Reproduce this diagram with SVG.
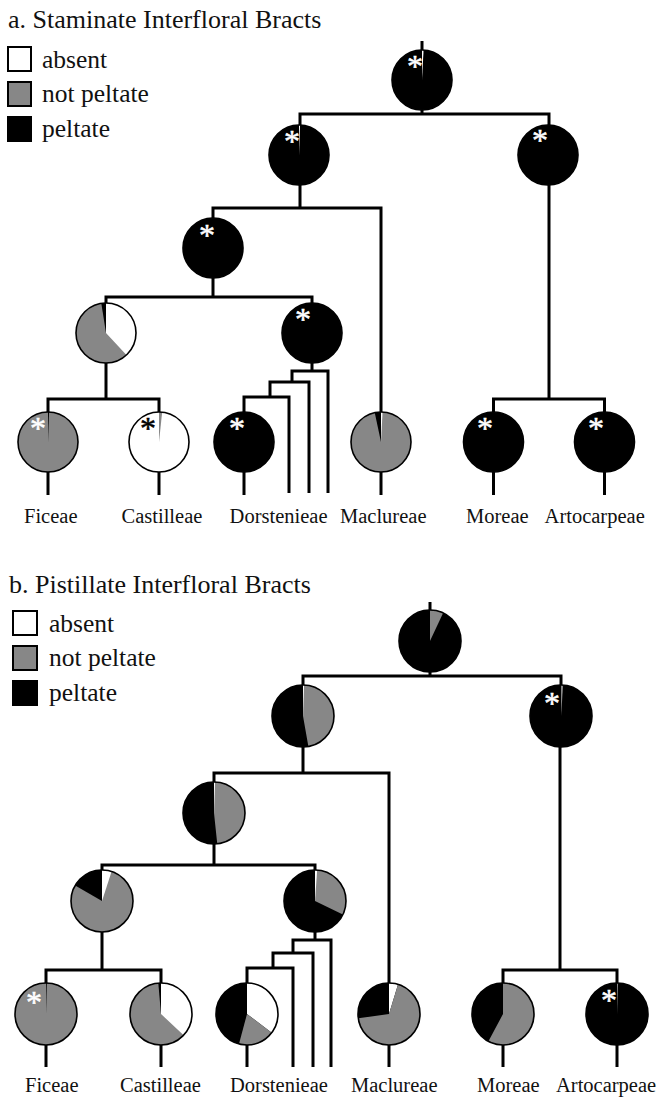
<svg xmlns="http://www.w3.org/2000/svg" width="657" height="1098" viewBox="0 0 657 1098">
<style>
text{font-family:'Liberation Serif','DejaVu Serif',serif}
.t{fill:#111}
.title{font-size:26px}
.leg{font-size:25.5px}
.lab{font-size:20.5px}
.ast{font-size:32px;text-anchor:middle;fill:#fff;stroke:#fff;stroke-width:0.5}
.astk{font-size:32px;text-anchor:middle;fill:#000;stroke:#000;stroke-width:0.5}
.c path{fill:none;stroke:#000;stroke-width:3;stroke-linejoin:miter;stroke-linecap:butt}
.ol{fill:none;stroke:#000;stroke-width:1.6}
.k{fill:#000}.g{fill:#878787}.w{fill:#fff}
</style>
<rect width="657" height="1098" fill="#fff"/>

<!-- ===== Panel a ===== -->
<g id="panel-a-title"><text class="t title" x="8" y="28">a. Staminate Interfloral Bracts</text></g>
<g id="legend-a">
<rect x="8" y="47" width="23" height="24" fill="#fff" stroke="#000" stroke-width="2"/>
<rect x="8" y="82" width="23" height="24" fill="#878787" stroke="#000" stroke-width="2"/>
<rect x="8" y="117" width="23" height="24" fill="#000" stroke="#000" stroke-width="2"/>
<text class="t leg" x="42" y="68">absent</text>
<text class="t leg" x="42" y="102">not peltate</text>
<text class="t leg" x="42" y="137">peltate</text>
</g>

<g id="connectors-a" class="c">
<path d="M422,41 V50"/>
<path d="M300,125 V114 H549 V125 M422,110 V114"/>
<path d="M213,218 V208 H381 V412 M300,185 V208"/>
<path d="M106,303 V297 H312 V303 M213,278 V297"/>
<path d="M48,412 V399 H159 V412 M106,363 V399"/>
<path d="M312,363 V371"/>
<path d="M292,382 V371 H328 V493"/>
<path d="M270,397 V382 H309 V493"/>
<path d="M244,412 V397 H289 V493"/>
<path d="M493.5,412 V399 H604.5 V412 M549,185 V399"/>
<path d="M48,472 V495 M159,472 V495 M244,472 V495 M381,472 V495 M493.5,472 V495 M604.5,472 V495"/>
</g>

<g id="a-root">
<circle class="k" cx="422" cy="80" r="30"/>
<path class="w" d="M422,80 L422,50 A30,30 0 0 1 423.57,50.04 Z"/>
<circle class="ol" cx="422" cy="80" r="30"/>
<text class="ast" x="415" y="76.5">*</text>
</g>
<g id="a-n1">
<circle class="k" cx="299" cy="155" r="30"/>
<path class="w" d="M299,155 L299,125 A30,30 0 0 1 300.05,125.02 Z"/>
<circle class="ol" cx="299" cy="155" r="30"/>
<text class="ast" x="292" y="151.5">*</text>
</g>
<g id="a-n2">
<circle class="k" cx="548" cy="155" r="30"/>
<circle class="ol" cx="548" cy="155" r="30"/>
<text class="ast" x="540" y="150.5">*</text>
</g>
<g id="a-n3">
<circle class="k" cx="213" cy="248" r="30"/>
<circle class="ol" cx="213" cy="248" r="30"/>
<text class="ast" x="207" y="245.5">*</text>
</g>
<g id="a-n4">
<circle class="g" cx="106" cy="333" r="30"/>
<path class="w" d="M106,333 L106,303 A30,30 0 0 1 126.46,354.94 Z"/>
<path class="k" d="M106,333 L101.31,303.37 A30,30 0 0 1 106,303 Z"/>
<circle class="ol" cx="106" cy="333" r="30"/>
</g>
<g id="a-n5">
<circle class="k" cx="312" cy="333" r="30"/>
<circle class="ol" cx="312" cy="333" r="30"/>
<text class="ast" x="303" y="329.5">*</text>
</g>
<g id="a-ficeae">
<circle class="g" cx="48" cy="442" r="30"/>
<path class="k" d="M48,442 L48,412 A30,30 0 0 1 49.05,412.02 Z"/>
<circle class="ol" cx="48" cy="442" r="30"/>
<text class="ast" x="38" y="438.5">*</text>
<text class="t lab" x="24" y="523">Ficeae</text>
</g>
<g id="a-castilleae">
<circle class="w" cx="159" cy="442" r="30"/>
<path class="g" d="M159,442 L159,412 A30,30 0 0 1 162.14,412.16 Z"/>
<circle class="ol" cx="159" cy="442" r="30"/>
<text class="astk" x="148" y="438.5">*</text>
<text class="t lab" x="121.5" y="523">Castilleae</text>
</g>
<g id="a-dorstenieae">
<circle class="k" cx="244" cy="442" r="30"/>
<circle class="ol" cx="244" cy="442" r="30"/>
<text class="ast" x="237" y="438.5">*</text>
<text class="t lab" x="229.6" y="523">Dorstenieae</text>
</g>
<g id="a-maclureae">
<circle class="g" cx="381" cy="442" r="30"/>
<path class="k" d="M381,442 L374.76,412.66 A30,30 0 0 1 381,412 Z"/>
<path class="w" d="M381,442 L381,412 A30,30 0 0 1 382.57,412.04 Z"/>
<circle class="ol" cx="381" cy="442" r="30"/>
<text class="t lab" x="340" y="523">Maclureae</text>
</g>
<g id="a-moreae">
<circle class="k" cx="493.5" cy="442" r="30"/>
<circle class="ol" cx="493.5" cy="442" r="30"/>
<text class="ast" x="485" y="438.5">*</text>
<text class="t lab" x="466" y="523">Moreae</text>
</g>
<g id="a-artocarpeae">
<circle class="k" cx="604.5" cy="442" r="30"/>
<circle class="ol" cx="604.5" cy="442" r="30"/>
<text class="ast" x="596" y="438.5">*</text>
<text class="t lab" x="544.6" y="523">Artocarpeae</text>
</g>

<!-- ===== Panel b ===== -->
<g id="panel-b-title"><text class="t title" x="9" y="593">b. Pistillate Interfloral Bracts</text></g>
<g id="legend-b">
<rect x="13" y="611" width="24" height="24" fill="#fff" stroke="#000" stroke-width="2"/>
<rect x="13" y="646" width="24" height="24" fill="#878787" stroke="#000" stroke-width="2"/>
<rect x="13" y="681" width="24" height="24" fill="#000" stroke="#000" stroke-width="2"/>
<text class="t leg" x="49" y="632">absent</text>
<text class="t leg" x="49" y="666">not peltate</text>
<text class="t leg" x="49" y="701">peltate</text>
</g>

<g id="connectors-b" class="c">
<path d="M430,602 V610"/>
<path d="M303,685 V676 H561 V685 M430,672 V676"/>
<path d="M214,782 V773 H389 V983 M303,747 V773"/>
<path d="M102,870 V865 H315 V870 M214,844 V865"/>
<path d="M46,983 V970 H161 V983 M102,932 V970"/>
<path d="M315,932 V940"/>
<path d="M293,953 V940 H331 V1067"/>
<path d="M273,968 V953 H313 V1067"/>
<path d="M247,983 V968 H293 V1067"/>
<path d="M503,983 V970 H617 V983 M560,747 V970"/>
<path d="M46,1045 V1067 M161,1045 V1067 M247,1045 V1067 M389,1045 V1067 M503,1045 V1067 M617,1045 V1067"/>
</g>

<g id="b-root">
<circle class="k" cx="430" cy="641" r="31"/>
<path class="g" d="M430,641 L430,610 A31,31 0 0 1 443.10,612.90 Z"/>
<circle class="ol" cx="430" cy="641" r="31"/>
</g>
<g id="b-n1">
<circle class="k" cx="303" cy="716" r="31"/>
<path class="g" d="M303,716 L303,685 A31,31 0 0 1 308.38,746.53 Z"/>
<path class="w" d="M303,716 L303,685 A31,31 0 0 1 304.08,685.02 Z"/>
<circle class="ol" cx="303" cy="716" r="31"/>
</g>
<g id="b-n2">
<circle class="k" cx="561" cy="716" r="31"/>
<path class="g" d="M561,716 L561,685 A31,31 0 0 1 563.16,685.07 Z"/>
<circle class="ol" cx="561" cy="716" r="31"/>
<text class="ast" x="552" y="713.5">*</text>
</g>
<g id="b-n3">
<circle class="k" cx="214" cy="813" r="31"/>
<path class="g" d="M214,813 L214,782 A31,31 0 0 1 217.24,843.83 Z"/>
<path class="w" d="M214,813 L214,782 A31,31 0 0 1 215.08,782.02 Z"/>
<circle class="ol" cx="214" cy="813" r="31"/>
</g>
<g id="b-n4">
<circle class="g" cx="102" cy="901" r="31"/>
<path class="w" d="M102,901 L102,870 A31,31 0 0 1 111.58,871.52 Z"/>
<path class="k" d="M102,901 L75.15,885.5 A31,31 0 0 1 102,870 Z"/>
<circle class="ol" cx="102" cy="901" r="31"/>
</g>
<g id="b-n5">
<circle class="k" cx="315" cy="901" r="31"/>
<path class="g" d="M315,901 L315,870 A31,31 0 0 1 342.86,914.59 Z"/>
<path class="w" d="M315,901 L315,870 A31,31 0 0 1 317.16,870.07 Z"/>
<circle class="ol" cx="315" cy="901" r="31"/>
</g>
<g id="b-ficeae">
<circle class="g" cx="46" cy="1014" r="31"/>
<path class="k" d="M46,1014 L46,983 A31,31 0 0 1 46.81,983.01 Z"/>
<circle class="ol" cx="46" cy="1014" r="31"/>
<text class="ast" x="34" y="1012.5">*</text>
<text class="t lab" x="25" y="1092">Ficeae</text>
</g>
<g id="b-castilleae">
<circle class="g" cx="161" cy="1014" r="31"/>
<path class="w" d="M161,1014 L161,983 A31,31 0 0 1 183.67,1035.14 Z"/>
<path class="k" d="M161,1014 L158.30,983.12 A31,31 0 0 1 161,983 Z"/>
<circle class="ol" cx="161" cy="1014" r="31"/>
<text class="t lab" x="120" y="1092">Castilleae</text>
</g>
<g id="b-dorstenieae">
<circle class="k" cx="247" cy="1014" r="31"/>
<path class="w" d="M247,1014 L247,983 A31,31 0 0 1 271.76,1032.66 Z"/>
<path class="g" d="M247,1014 L271.76,1032.66 A31,31 0 0 1 238.98,1043.94 Z"/>
<circle class="ol" cx="247" cy="1014" r="31"/>
<text class="t lab" x="230" y="1092">Dorstenieae</text>
</g>
<g id="b-maclureae">
<circle class="k" cx="389" cy="1014" r="31"/>
<path class="w" d="M389,1014 L389,983 A31,31 0 0 1 398.06,984.35 Z"/>
<path class="g" d="M389,1014 L398.06,984.35 A31,31 0 1 1 358.30,1018.32 Z"/>
<circle class="ol" cx="389" cy="1014" r="31"/>
<text class="t lab" x="351" y="1092">Maclureae</text>
</g>
<g id="b-moreae">
<circle class="k" cx="503" cy="1014" r="31"/>
<path class="g" d="M503,1014 L503,983 A31,31 0 1 1 488.45,1041.37 Z"/>
<circle class="ol" cx="503" cy="1014" r="31"/>
<text class="t lab" x="477" y="1092">Moreae</text>
</g>
<g id="b-artocarpeae">
<circle class="k" cx="617" cy="1014" r="31"/>
<path class="g" d="M617,1014 L617,983 A31,31 0 0 1 618.08,983.02 Z"/>
<circle class="ol" cx="617" cy="1014" r="31"/>
<text class="ast" x="609" y="1010.5">*</text>
<text class="t lab" x="556" y="1092">Artocarpeae</text>
</g>
</svg>
